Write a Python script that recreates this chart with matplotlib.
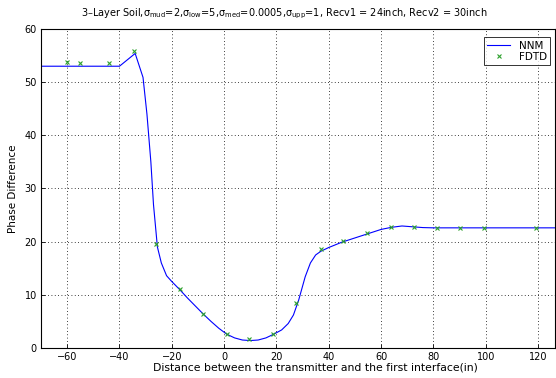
import matplotlib
matplotlib.use("Agg")
import matplotlib.pyplot as plt

# NNM curve
nnm_x = [-70, -40, -37, -34, -31, -29.5, -28, -27, -25.5, -24, -22, -20, -17, -14, -11, -8,
         -5, -2, 1, 4, 7, 10, 13, 16, 19, 22, 24.5, 26.5, 28.5, 31, 33, 35, 37, 40, 45,
         50, 55, 60, 64, 68, 72, 76, 80, 90, 100, 110, 120, 130]
nnm_y = [53.0, 53.0, 54.2, 55.4, 50.9, 44.0, 35.0, 27.0, 19.0, 16.0, 13.6, 12.5, 11.0, 9.4, 7.9, 6.4,
         5.0, 3.7, 2.6, 1.9, 1.5, 1.4, 1.5, 1.9, 2.6, 3.4, 4.6, 6.2, 9.0, 13.4, 16.0, 17.5, 18.2, 18.9, 19.9,
         20.7, 21.5, 22.3, 22.7, 22.95, 22.8, 22.65, 22.6, 22.6, 22.6, 22.6, 22.6, 22.6]

# FDTD samples
fdtd_x = [-60, -55.2, -44, -34.6, -26, -17, -8, 1, 9.7, 18.8, 27.6, 36.9, 45.5, 54.8,
          63.7, 72.5, 81.5, 90.3, 99.5, 119.2]
fdtd_y = [53.7, 53.6, 53.6, 55.9, 19.5, 11.1, 6.4, 2.6, 1.7, 2.6, 8.4, 18.6, 20.1, 21.6,
          22.7, 22.7, 22.6, 22.6, 22.6, 22.6]

x_ticks = [-60, -40, -20, 0, 20, 40, 60, 80, 100, 120]
y_ticks = [0, 10, 20, 30, 40, 50, 60]

plt.rcParams['font.family'] = ['DejaVu Sans']
plt.rcParams['mathtext.default'] = 'regular'

fig = plt.figure(figsize=(5.56, 3.78), dpi=100)
ax = fig.add_axes([41 / 556, 1 - 348 / 378, 514 / 556, 319 / 378])

ax.plot(nnm_x, nnm_y, color="#0000ff", linewidth=0.8, label="NNM")
ax.plot(fdtd_x, fdtd_y, linestyle="none", marker="x", color="#2ca02c",
        markersize=3.5, markeredgewidth=0.8, label="FDTD")

ax.set_xlim(-70, 126.5)
ax.set_ylim(0, 60)
ax.set_xticks(x_ticks)
ax.set_yticks(y_ticks)
ax.tick_params(labelsize=7, direction="in", length=3, width=0.6, pad=3)
ax.grid(True, color="black", linestyle=(0, (1, 3)), linewidth=0.6)

for s in ax.spines.values():
    s.set_linewidth(0.8)

ax.set_title("3\u2013Layer Soil,$\\sigma_{mud}$=2,$\\sigma_{low}$=5,$\\sigma_{med}$=0.0005,"
             "$\\sigma_{upp}$=1, Recv1 = 24inch, Recv2 = 30inch", fontsize=7.0, pad=9, x=0.473)
ax.set_xlabel("Distance between the transmitter and the first interface(in)", fontsize=7.8,
              labelpad=0, x=0.533)
ax.set_ylabel("Phase Difference", fontsize=7.5, labelpad=5)

leg = ax.legend(loc="upper right", fontsize=7.5, frameon=True, fancybox=False,
                handlelength=2.2, borderpad=0.3, labelspacing=0.1,
                bbox_to_anchor=(1.0, 0.99))
leg.get_frame().set_edgecolor("black")
leg.get_frame().set_linewidth(0.7)

fig.savefig("out.png", dpi=100)
